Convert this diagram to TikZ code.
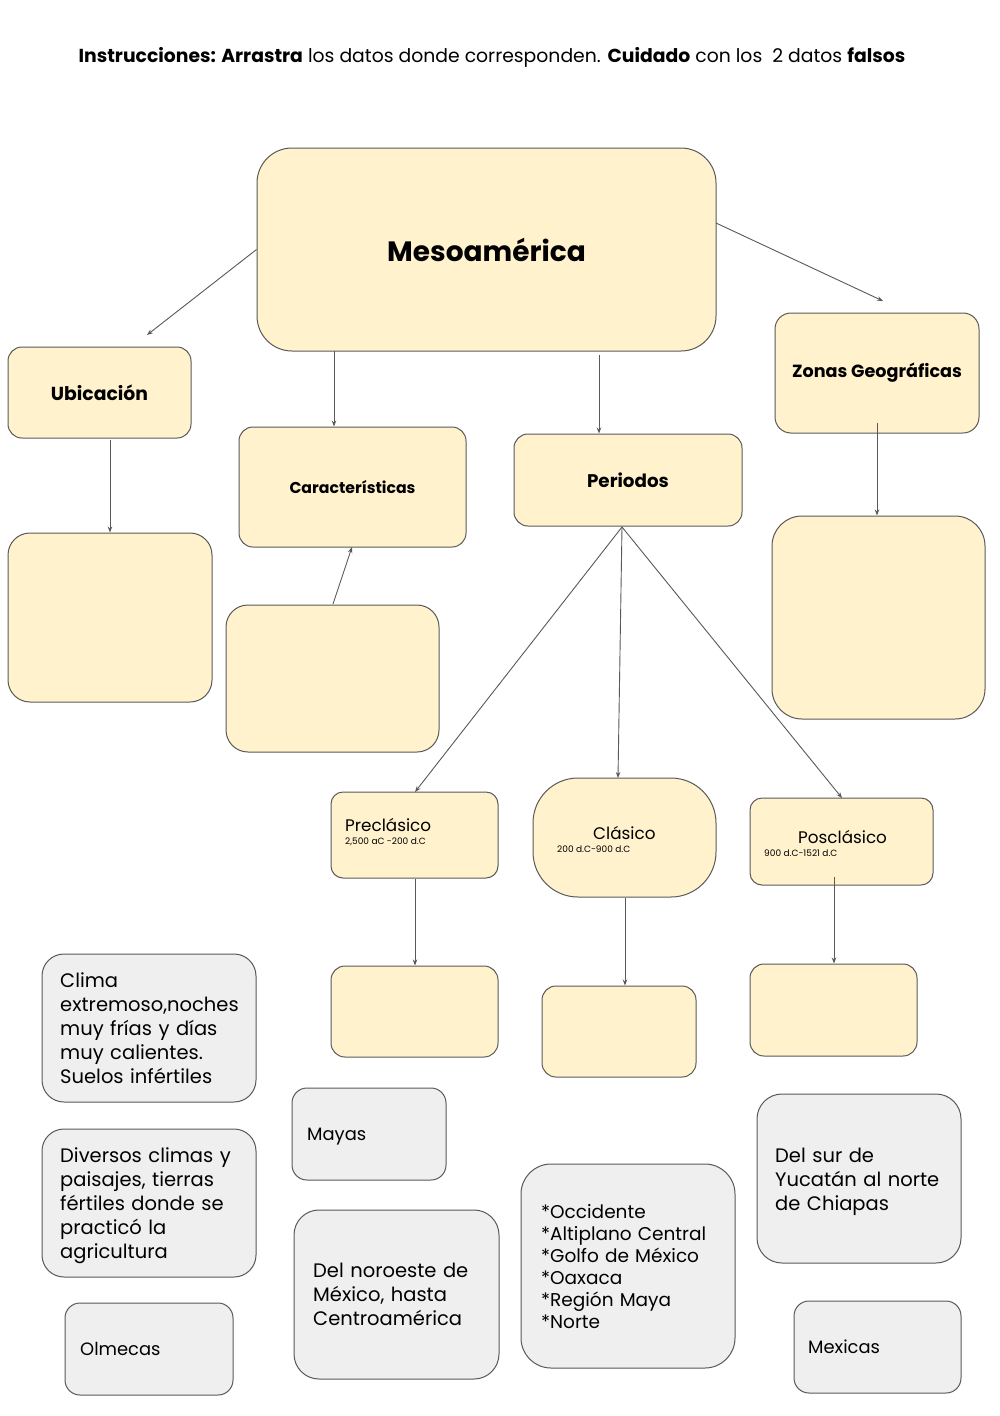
\documentclass[tikz,border=0pt]{standalone}
\usepackage{fontspec}
\setmainfont{Poppins}
\usetikzlibrary{arrows.meta}
\definecolor{cream}{HTML}{FFF2CC}
\definecolor{grayfill}{HTML}{EFEFEF}
\definecolor{edge}{HTML}{595959}
\newcommand{\fs}[2]{\fontsize{#1}{#2}\selectfont}
\tikzset{
  box/.style={draw=edge, line width=1pt, fill=cream, rounded corners=#1, inner sep=0pt},
  box/.default=14pt,
  gbox/.style={draw=edge, line width=1pt, fill=grayfill, rounded corners=#1, inner sep=0pt},
  gbox/.default=22pt,
  arr/.style={draw=edge, line width=0.9pt, -{Stealth[length=6pt,width=4.5pt]}},
  txt/.style={inner sep=0pt, anchor=base west, align=left},
  body/.style={txt, text width=200pt, font=\fs{19.5}{24}},
}
\begin{document}
\begin{tikzpicture}[x=1pt,y=-1pt]
\useasboundingbox[fill=white] (0,0) rectangle (1000,1416);

\node[inner sep=0pt, font=\fs{18.8}{22}] (title) at (492,57) {\textbf{Instrucciones: Arrastra} los datos donde corresponden. \textbf{Cuidado} con los \ 2 datos \textbf{falsos}};

% main boxes
\node[box=35pt, minimum width=459pt, minimum height=203pt, font=\fs{28}{32}\bfseries] (meso) at (486.5,249.5) {Mesoamérica};
\node[box, minimum width=183pt, minimum height=91pt, font=\fs{18.8}{22}\bfseries] (ubic) at (99.5,392.5) {Ubicación};
\node[box, minimum width=227pt, minimum height=120pt, font=\fs{15.7}{19}\bfseries] (carac) at (352.5,487) {Características};
\node[box, minimum width=228pt, minimum height=92pt, font=\fs{18.3}{22}\bfseries] (peri) at (628,480) {Periodos};
\node[box=16pt, minimum width=204pt, minimum height=120pt, font=\fs{17.6}{21}\bfseries] (zonas) at (877,373) {Zonas Geográficas};

% answer boxes
\node[box=22pt, minimum width=204pt, minimum height=169pt] (ubicA) at (110,617.5) {};
\node[box=22pt, minimum width=213pt, minimum height=147pt] (caracA) at (332.5,678.5) {};
\node[box=30pt, minimum width=213pt, minimum height=203pt] (zonasA) at (878.5,617.5) {};

% periods
\node[box=12pt, minimum width=167pt, minimum height=86pt] (pre) at (414.5,835) {};
\node[txt, font=\fs{16.8}{20}] (preT) at (345,831) {Preclásico};
\node[txt, font=\fs{9}{10}] (preS) at (345,844) {2,500 aC -200 d.C};
\node[box=45pt, minimum width=183pt, minimum height=119pt] (cla) at (624.5,837.5) {};
\node[txt, font=\fs{16.8}{20}] (claT) at (593,839) {Clásico};
\node[txt, font=\fs{9}{10}] (claS) at (557,852) {200 d.C-900 d.C};
\node[box=12pt, minimum width=183pt, minimum height=87pt] (pos) at (841.5,841.5) {};
\node[txt, font=\fs{16.8}{20}] (posT) at (798,843) {Posclásico};
\node[txt, font=\fs{9}{10}] (posS) at (764,856) {900 d.C-1521 d.C};

\node[box=14pt, minimum width=167pt, minimum height=91pt] (preA) at (414.5,1011.5) {};
\node[box=14pt, minimum width=154pt, minimum height=91pt] (claA) at (619,1031.5) {};
\node[box=14pt, minimum width=167pt, minimum height=92pt] (posA) at (833.5,1010) {};

% gray boxes
\node[gbox, minimum width=214pt, minimum height=148pt] (g1) at (149,1028) {};
\node[body] (g1T) at (60,987) {Clima\\extremoso,noches\\muy frías y días\\muy calientes.\\Suelos infértiles};
\node[gbox, minimum width=214pt, minimum height=148pt] (g2) at (149,1203) {};
\node[body] (g2T) at (60,1162) {Diversos climas y\\paisajes, tierras\\fértiles donde se\\practicó la\\agricultura};
\node[gbox=15pt, minimum width=168pt, minimum height=92pt] (g3) at (149,1349) {};
\node[txt, font=\fs{17.9}{20}] (g3T) at (80,1355) {Olmecas};
\node[gbox=15pt, minimum width=154pt, minimum height=92pt] (g4) at (369,1134) {};
\node[txt, font=\fs{17.9}{20}] (g4T) at (307,1140) {Mayas};
\node[gbox=25pt, minimum width=205pt, minimum height=169pt] (g5) at (396.5,1294.5) {};
\node[body] (g5T) at (313,1277) {Del noroeste de\\México, hasta\\Centroamérica};
\node[gbox=30pt, minimum width=214pt, minimum height=204pt] (g6) at (628,1266) {};
\node[txt, text width=200pt, font=\fs{18.5}{22}] (g6T) at (541,1218) {{*}Occidente\\{*}Altiplano Central\\{*}Golfo de México\\{*}Oaxaca\\{*}Región Maya\\{*}Norte};
\node[gbox=25pt, minimum width=204pt, minimum height=169pt] (g7) at (859,1178.5) {};
\node[body] (g7T) at (775,1162) {Del sur de\\Yucatán al norte\\de Chiapas};
\node[gbox=15pt, minimum width=167pt, minimum height=92pt] (g8) at (877.5,1347) {};
\node[txt, font=\fs{17.9}{20}] (g8T) at (808,1353) {Mexicas};

% connectors
\coordinate (a1) at (147,335);
\draw[arr] (meso.west) -- (a1);
\coordinate (c1s) at (334,351);
\draw[arr] (c1s) -- (carac.north -| c1s);
\coordinate (p1s) at (599,355);
\draw[arr] (p1s) -- (peri.north -| p1s);
\coordinate (z1s) at (716,223);
\coordinate (z1e) at (883,301);
\draw[arr] (z1s) -- (z1e);
\coordinate (u1s) at (110,440);
\draw[arr] (u1s) -- (ubicA.north -| u1s);
\coordinate (ca1) at (333,604);
\coordinate (ca2) at (352,547);
\draw[arr] (ca1) -- (ca2);
\coordinate (z2s) at (877,423);
\draw[arr] (z2s) -- (zonasA.north -| z2s);
\coordinate (ps) at (622,527);
\coordinate (preTop) at (415,792);
\coordinate (claTop) at (618,778);
\coordinate (posTop) at (842,798);
\draw[arr] (ps) -- (preTop);
\draw[arr] (ps) -- (claTop);
\draw[arr] (ps) -- (posTop);
\coordinate (pr1) at (415,879);
\draw[arr] (pr1) -- (preA.north -| pr1);
\coordinate (cl1) at (625,898);
\draw[arr] (cl1) -- (claA.north -| cl1);
\coordinate (po1) at (834,877);
\draw[arr] (po1) -- (posA.north -| po1);
\end{tikzpicture}
\end{document}
